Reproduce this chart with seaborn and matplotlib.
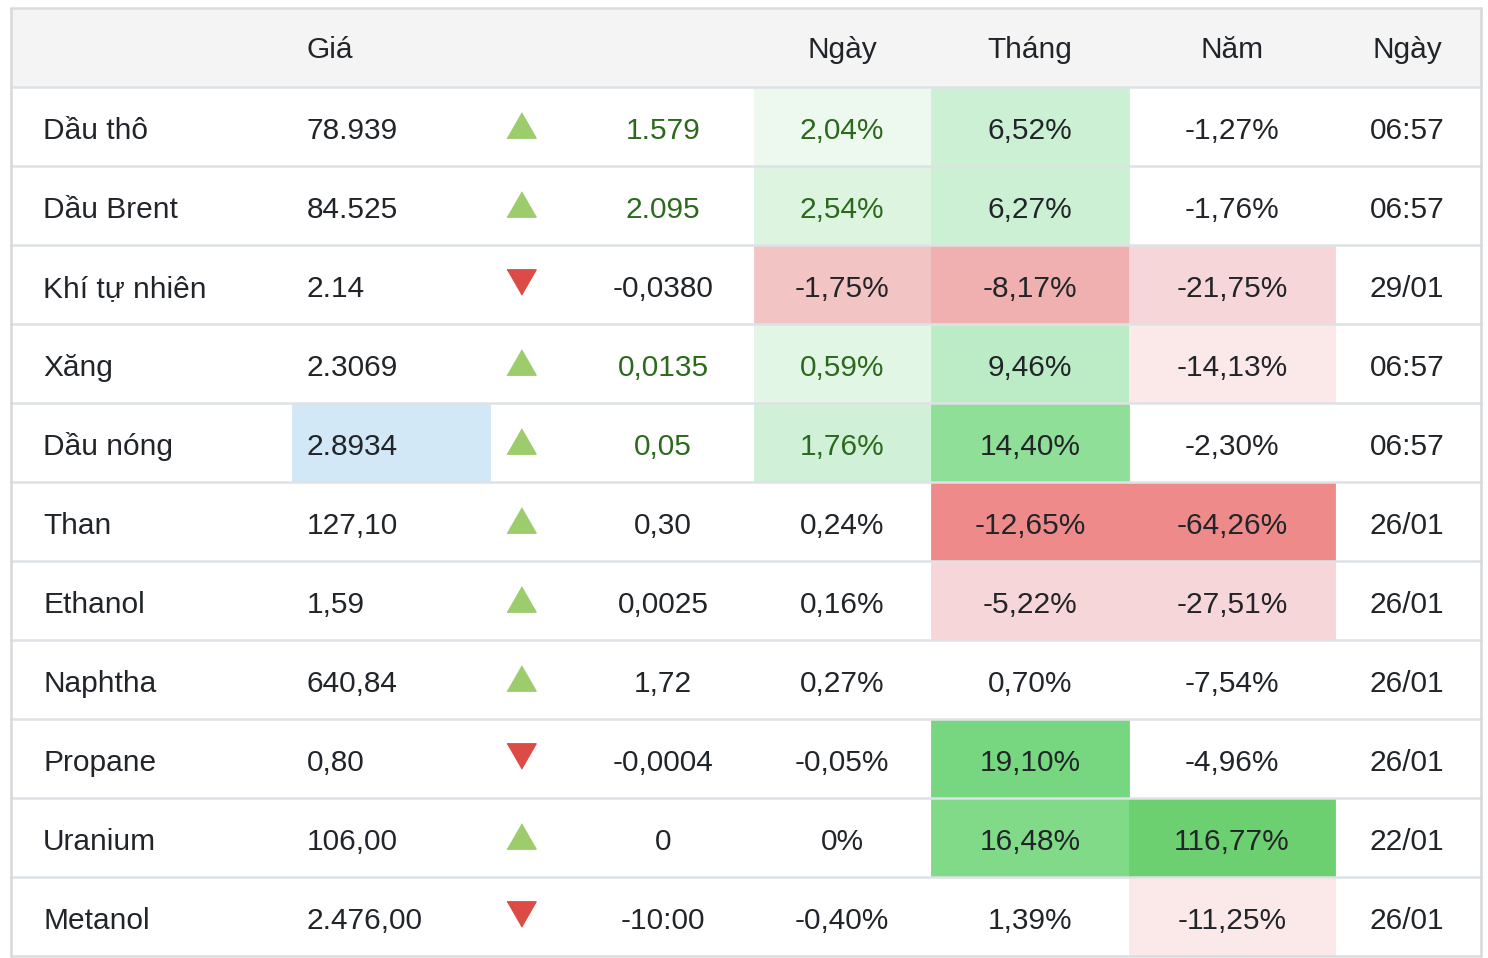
import matplotlib
matplotlib.use("Agg")
import matplotlib.pyplot as plt
import seaborn as sns

# dữ liệu bảng
names = ["Dầu thô", "Dầu Brent", "Khí tự nhiên", "Xăng", "Dầu nóng", "Than",
         "Ethanol", "Naphtha", "Propane", "Uranium", "Metanol"]
prices = ["78.939", "84.525", "2.14", "2.3069", "2.8934", "127,10",
          "1,59", "640,84", "0,80", "106,00", "2.476,00"]
direction = ["up", "up", "down", "up", "up", "up", "up", "up", "down", "up", "down"]
changes = ["1.579", "2.095", "-0,0380", "0,0135", "0,05", "0,30",
           "0,0025", "1,72", "-0,0004", "0", "-10:00"]
day_pct = ["2,04%", "2,54%", "-1,75%", "0,59%", "1,76%", "0,24%",
           "0,16%", "0,27%", "-0,05%", "0%", "-0,40%"]
month_pct = ["6,52%", "6,27%", "-8,17%", "9,46%", "14,40%", "-12,65%",
             "-5,22%", "0,70%", "19,10%", "16,48%", "1,39%"]
year_pct = ["-1,27%", "-1,76%", "-21,75%", "-14,13%", "-2,30%", "-64,26%",
            "-27,51%", "-7,54%", "-4,96%", "116,77%", "-11,25%"]
dates = ["06:57", "06:57", "29/01", "06:57", "06:57", "26/01",
         "26/01", "26/01", "26/01", "22/01", "26/01"]
headers = ["Giá", "Ngày", "Tháng", "Năm", "Ngày"]

# màu nền ô (kiểu trình bày)
day_bg = ["#edf8ee", "#dcf4e0", "#f2c4c4", "#e2f6e6", "#d0f0d8", None,
          None, None, None, None, None]
month_bg = ["#ccf0d4", "#ccf0d4", "#f0b0b0", "#bbecc6", "#8fdf99", "#ee8a8a",
            "#f6d6d8", None, "#77d680", "#80da88", None]
year_bg = [None, None, "#f6d6d8", "#fbe9ea", None, "#ee8a8a",
           "#f6d6d8", None, None, "#6dd070", "#fbe9e9"]
green_text = [True, True, False, True, True, False, False, False, False, False, False]

sns.set_theme(style="white")
plt.rcParams['font.family'] = ['Liberation Sans', 'DejaVu Sans']

fig = plt.figure(figsize=(14.88, 9.58), dpi=100)
ax = fig.add_axes([0, 0, 1, 1])
ax.set_xlim(0, 1488)
ax.set_ylim(958, 0)
ax.axis("off")

top, head_h, row_h = 8, 79, 79
left, right = 11, 1481
n = len(names)
dark = "#212529"
gtxt = "#2b6a1c"
line_c = "#dee2e6"

# header background
ax.bar(left, head_h, width=right - left, bottom=top, align="edge", color="#f4f4f4", lw=0, zorder=0)

col_spans = {"day": (754, 931), "month": (931, 1129), "year": (1129, 1335)}
for i in range(n):
    y0 = top + head_h + i * row_h
    for key, bg in (("day", day_bg), ("month", month_bg), ("year", year_bg)):
        if bg[i]:
            x0, x1 = col_spans[key]
            ax.bar(x0, row_h, width=x1 - x0, bottom=y0, align="edge", color=bg[i],
                   edgecolor=bg[i], lw=0.6, zorder=1)
    if names[i] == "Dầu nóng":
        ax.bar(292, row_h, width=198, bottom=y0, align="edge", color="#d3e8f6",
               edgecolor="#d3e8f6", lw=0.6, zorder=1)

# grid lines
for k in range(n + 2):
    y = top + k * row_h
    ax.plot([left, right], [y, y], color="#dadde0" if k in (0, n + 1) else line_c, lw=1.8, zorder=2)
ax.plot([left, left], [top, top + (n + 1) * row_h], color="#d6d8da", lw=1.8, zorder=2)
ax.plot([right, right], [top, top + (n + 1) * row_h], color="#d6d8da", lw=1.8, zorder=2)

fs = 21.5
hy = top + 50
ax.text(307, hy, headers[0], fontsize=fs, color=dark, va="baseline", ha="left")
for x, h in zip([842, 1030, 1232, 1407], headers[1:]):
    ax.text(x, hy, h, fontsize=fs, color=dark, va="baseline", ha="center")

up_tri = [(-1, -0.87), (1, -0.87), (0, 0.87)]
down_tri = [(-1, 0.87), (1, 0.87), (0, -0.87)]
for i in range(n):
    y0 = top + head_h + i * row_h
    yb = y0 + 52
    yc = y0 + row_h / 2
    tc = gtxt if green_text[i] else dark
    ax.text(43, yb, names[i], fontsize=fs, color=dark, va="baseline", ha="left", zorder=3)
    ax.text(307, yb, prices[i], fontsize=fs, color=dark, va="baseline", ha="left", zorder=3)
    if direction[i] == "up":
        ax.plot(521, yc - 2, marker=up_tri, markersize=21, color="#9ccc6c", zorder=3)
    else:
        ax.plot(521, yc - 3, marker=down_tri, markersize=21, color="#dc4b45", zorder=3)
    ax.text(663, yb, changes[i], fontsize=fs, color=tc, va="baseline", ha="center", zorder=3)
    ax.text(842, yb, day_pct[i], fontsize=fs, color=tc, va="baseline", ha="center", zorder=3)
    ax.text(1030, yb, month_pct[i], fontsize=fs, color=dark, va="baseline", ha="center", zorder=3)
    ax.text(1232, yb, year_pct[i], fontsize=fs, color=dark, va="baseline", ha="center", zorder=3)
    ax.text(1407, yb, dates[i], fontsize=fs, color=dark, va="baseline", ha="center", zorder=3)

fig.savefig("out.png", dpi=100, facecolor="white")
